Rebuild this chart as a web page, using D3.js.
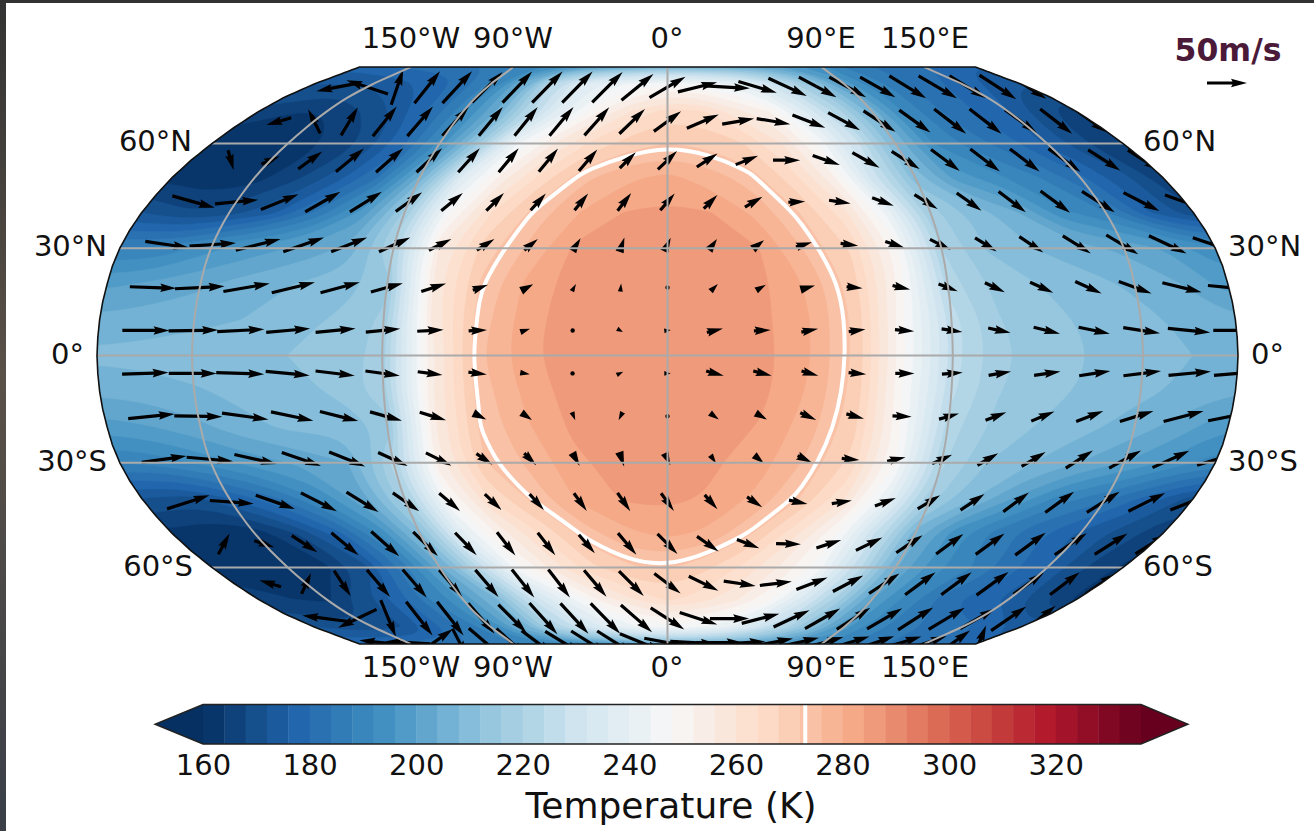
<!DOCTYPE html>
<html>
<head>
<meta charset="utf-8">
<script src="https://d3js.org/d3.v7.min.js"></script>
<style>
  html, body { margin: 0; padding: 0; background: #fff; }
  text { font-family: "DejaVu Sans", sans-serif; fill: #111; }
</style>
</head>
<body>
<div id="chart"></div>
<script>
// temperature, K
const tempLons = [-180,-165,-150,-135,-120,-105,-90,-75,-60,-45,-30,-15,0,15,30,45,60,75,90,105,120,135,150,165,180];
const tempLats = [90,80,70,60,50,40,30,20,10,0,-10,-20,-30,-40,-50,-60,-70,-80,-90];
const tempRows = [
  [178,180,181,182,183,185,187,191,195,199,202,205,206,206,205,203,200,196,192,187,184,182,181,178,176],
  [172,172,173,175,178,181,190,205,224,236,242,246,247,246,242,236,225,213,199,191,185,181,178,175,172],
  [167,164,164,168,173,181,191,204,223,240,252,261,266,265,258,252,237,222,207,191,184,180,176,169,166],
  [161,161,162,164,168,178,193,215,243,256,265,270,272,271,268,260,247,230,208,192,186,181,175,168,164],
  [163,161,162,167,174,184,205,236,254,266,275,279,281,278,274,266,253,228,209,198,193,188,181,174,166],
  [172,168,170,175,185,197,217,247,264,274,280,284,285,284,279,272,262,243,218,211,204,193,188,176,168],
  [188,189,195,198,201,205,222,256,270,277,285,287,287,286,284,275.5,267.5,250,220,211.5,208,205.5,203,199,193],
  [199,201,203,206,208,210,214,257,272.5,281,286,287.5,287.5,287,285,279.5,269.5,250,222,215,211.8,209.5,207.2,204,198],
  [205,206,207,208,210.5,212.5,217,256,273.5,282,286.5,287.5,287.5,287.5,285,280,270.5,248,226,216.2,213.5,211,209,207,204],
  [209,209.5,210,211,212,213,218,253,275,282.5,287,287.5,287.5,287.5,285.5,280,270.5,248,226,217,214,211.7,210,208.1,206],
  [205,206,207.5,209,210.5,212.7,219,255,273.5,281,286,287.5,287.5,287.5,285,279.5,270,247,225,216.2,213.5,211,209,207,204],
  [198,200,203,207,209,209.5,213,255,273,279.5,285,287.5,287.5,287,283.5,278,269,248,222,215,211.5,209,206,202,196],
  [188,190,194,198,201,204,222,255,271.8,277,283,286,286,284.5,282,275.5,267,248,221,212,208,204,200,195,190],
  [172,170,176,183,192,203,219,248,265,274,281,284.5,285,283.5,279,272,261,241,218,208,199,190,185,178,170],
  [163,161,161,168,178,192,210,238,254,265,274,279,281,279,272.5,262,249,228,205,193,186,180,175,170,165],
  [163,161,161,163,170,184,203,224,246,258,267,271.5,272.5,269,263,255,246,227,205,195,188,183,176,168,163],
  [165,164,163,170,178,188,197,208,228,241,253,260,265,262,257,249,234,218,200,190,183,178,175,168,163],
  [172,170,170,172,178,184,193,206,220,230,238,244,247,245,241,232,222,210,198,191,186,183,181,178,174],
  [180,181,182,183,184,185,187,189,191,194,197,200,201,201,200,198,196,194,192,188,185,183,182,180,178]
];

// wind, m/s (u to the east, v to the north)
const windLons = [-165,-150,-135,-120,-105,-90,-75,-60,-45,-30,-15,0,15,30,45,60,75,90,105,120,135,150,165,180];
const windLats = [79,67,55,43,31,19,7,-5,-17,-29,-41,-53,-65,-77,-89];
const uRows = [
  [-52,-52,15,32,37,38,37,38,38,38,40,45,49,56,48,48,47,46,44,46,48,46,46,46],
  [-31,-15,21,30,32,33,30,29,30,31,32,34,40,40,42,41,40,40,39,40,40,40,40,38],
  [7,23,30,35,34,32,27,25,24,23,20,24,26,28,34,34,34,35,36,37,37,40,40,40],
  [53,54,47,44,40,33,27,22,19,17,17,18,17,22,21,27,27,29,31,34,37,41,45,49],
  [55,58,56,51,45,39,28,22,17,10,6,8,10,14,20,22,24,26,27,30,35,40,47,51],
  [58,62,58,54,49,40,31,19,15,5,1,1,9,12,18,20,22,24,25,29,33,41,49,52],
  [59,62,59,55,50,43,33,23,12,1.5,7,8,20,21,21,21,24,26,28,33,39,46,53,58],
  [58,60,60,55,49,43,31,23,12,1.5,8,8,22,23,21,22,24,26,28,33,39,47,53,58],
  [58,60,58,53,48,40,33,16,13,4,-5,1,11,14,20,22,24,25,26,29,34,42,50,56],
  [56,58,53,49,45,37,32,20,15,9,6,7,7,12,18,22,23,25,26,30,34,40,46,49],
  [53,55,49,45,40,33,26,21,18,16,16,16,16,19,23,25,26,28,30,32,36,41,46,50],
  [14,25,32,34,35,31,27,23,22,20,23,25,27,28,31,31,33,33,34,36,38,40,41,40],
  [-27,12,21,29,30,29,29,28,27,28,31,33,37,40,40,39,38,38,38,38,40,38,37,37],
  [-60,-48,19,33,33,33,35,35,35,37,39,42,47,49,47,45,44,42,44,44,45,44,44,40],
  [-56,-56,48,18,42,38,40,46,46,46,54,58,58,58,50,54,54,50,50,47,50,48,42,17]
];
const vRows = [
  [-10,17,44,40,40,38,39,39,39,38,33,26,12,-3,-14,-22,-25,-25,-25,-28,-28,-28,-30,-29],
  [-9,30,35,37,37,36,36,36,36,35,31,25,17,7,-7,-16,-22,-26,-28,-31,-31,-29,-31,-27],
  [-25,10,22,29,30,30,30,30,29,27,20,23,17,11,0,-12,-19,-22,-27,-28,-28,-29,-26,-25],
  [-15,5,19,25,25,24,22,22,21,21,22,21,17,13,1,-4,-10,-18,-22,-26,-27,-26,-23,-17],
  [-8,4,14,18,18,18,14,14,14,16,18,17,14,11,6,-3,-8,-13,-17,-20,-22,-24,-22,-17],
  [-2,3,10,13,13,11,10,7,8,9,10,3,9,7,5,-2,-5,-9,-12,-13,-15,-15,-12,-5],
  [0,1,3,5,5,4,2,1,4,0,-4,1,5,1,4,3,-2,-4,-6,-8,-8,-7,-5,0],
  [2,0,-2,-5,-6,-6,-4,-3,-2,0,4,0,-6,-6,-6,-2,0,2,5,5,6,6,5,5],
  [6,-1,-8,-11,-12,-11,-10,-8,-9,-10,-10,-2,-8,-8,-9,-6,-1,7,10,12,13,13,13,11],
  [8,-5,-12,-17,-18,-17,-16,-14,-15,-16,-18,-15,-10,-10,-9,-2,5,11,15,18,22,22,21,15],
  [17,-4,-17,-23,-25,-23,-22,-20,-20,-22,-23,-22,-18,-13,-5,4,10,17,20,24,26,26,23,20],
  [26,-8,-21,-28,-31,-30,-28,-29,-28,-23,-27,-25,-19,-11,-1,10,16,22,25,26,28,27,26,25],
  [8,26,-32,-34,-35,-34,-34,-35,-35,-33,-31,-25,-18,-6,5,15,20,25,28,28,29,27,28,25],
  [8,-23,-46,-42,-42,-38,-35,-39,-38,-38,-34,-27,-15,0,12,21,25,27,26,28,27,25,30,32],
  [6,3,34,-35,-36,-35,-30,-28,-29,-29,-22,-11,-3,0,3,10,12,14,15,16,15,16,30,43]
];

const gridLons = [-150,-90,0,90,150];
const gridLats = [60,30,0,-30,-60];
const lonLabels = ["150°W","90°W","0°","90°E","150°E"];
const latLabels = ["60°N","30°N","0°","30°S","60°S"];
const levelStep = 4;
const levelMin = 160;
const levelMax = 336;
const cbarTicks = [160,180,200,220,240,260,280,300,320];
const freezing = 273;
const refSpeed = 50;

// Robinson table
const robLat = [0,5,10,15,20,25,30,35,40,45,50,55,60,65,70,75,80,85,90];
const robLen = [1,.9986,.9954,.99,.9822,.973,.96,.9427,.9216,.8962,.8679,.835,.7986,.7597,.7186,.6732,.6213,.5722,.54];
const robDfe = [0,.062,.124,.186,.248,.31,.372,.434,.4958,.5571,.6176,.6769,.7346,.7903,.8435,.8936,.9394,.9761,1];

const w = 1314, h = 831;
const cx = 667.5, cy = 355.5, halfW = 570.5, halfH = 288.5;

const plen = d3.scaleLinear().domain(robLat).range(robLen);
const pdfe = d3.scaleLinear().domain(robLat).range(robDfe);
const project = (lon, lat) => [
  cx + lon / 180 * halfW * plen(Math.abs(lat)),
  cy - Math.sign(lat) * halfH * pdfe(Math.abs(lat))
];

const rdbu = ["#053061","#2166ac","#4393c3","#92c5de","#d1e5f0","#f7f7f7","#fddbc7","#f4a582","#d6604d","#b2182b","#67001f"];
const color = d3.scaleLinear()
  .domain(d3.range(11).map(i => levelMin + (levelMax - levelMin) * i / 10))
  .range(rdbu);

const levels = d3.range(levelMin, levelMax + 1, levelStep);

const svg = d3.select("#chart").append("svg").attr("width", w).attr("height", h);

// the screenshot frame
const frame = svg.append("defs").append("linearGradient").attr("id", "frame")
  .attr("x1", 0).attr("x2", 0).attr("y1", 0).attr("y2", 1);
frame.append("stop").attr("offset", "0%").attr("stop-color", "#333333");
frame.append("stop").attr("offset", "45%").attr("stop-color", "#5a5148");
frame.append("stop").attr("offset", "100%").attr("stop-color", "#3a3f48");
svg.append("rect").attr("x", 0).attr("y", 0).attr("width", 6).attr("height", h).attr("fill", "url(#frame)");
svg.append("rect").attr("x", 0).attr("y", 0).attr("width", w).attr("height", 3).attr("fill", "#333");

// map outline
const outlinePts = d3.range(-90, 90.5, 1).map(lat => project(180, lat))
  .concat(d3.range(90, -90.5, -1).map(lat => project(-180, lat)));
const outlineLine = d3.line().curve(d3.curveLinearClosed);
svg.select("defs").append("clipPath").attr("id", "mapclip")
  .append("path").attr("d", outlineLine(outlinePts));

const map = svg.append("g").attr("clip-path", "url(#mapclip)");

// pad the grid with repeated edges so contour rings close outside the clip
const padLons = [-205].concat(tempLons, [205]);
const padLats = [112].concat(tempLats, [-112]);
const padRows = [tempRows[0]].concat(tempRows, [tempRows[tempRows.length - 1]])
  .map(r => [r[0]].concat(r, [r[r.length - 1]]));
const flat = d3.merge(padRows);

const lonAt = d3.scaleLinear().domain(d3.range(padLons.length)).range(padLons);
const latAt = d3.scaleLinear().domain(d3.range(padLats.length)).range(padLats);
const contours = d3.contours().size([padLons.length, padLats.length]);

const ringLine = d3.line().curve(d3.curveBasisClosed);
const contourPath = geom => geom.coordinates
  .map(poly => poly.map(ring => ringLine(ring.slice(1).map(p => project(lonAt(p[0] - 0.5), latAt(p[1] - 0.5))))).join(""))
  .join("");

map.append("path").attr("d", outlineLine(outlinePts)).attr("fill", color(levelMin));

map.selectAll("path.band")
  .data(levels.slice(0, -1))
  .enter()
  .append("path")
  .attr("class", "band")
  .attr("d", v => contourPath(contours.contour(flat, v)))
  .attr("fill", v => color(v + levelStep / 2))
  .attr("fill-rule", "evenodd")
  .attr("stroke", v => color(v + levelStep / 2))
  .attr("stroke-width", 0.4);

// 273 K line
map.append("path")
  .attr("d", contourPath(contours.contour(flat, freezing)))
  .attr("fill", "none")
  .attr("stroke", "#fff")
  .attr("stroke-width", 4);

// wind arrows, quiver style
const speed = d3.scaleLinear().domain([0, refSpeed]).range([0, 40]);
const shaft = 3.2, headLen = 16, headBack = 14.5, headW = 8.6;
const arrowPath = len => {
  if (len < 3.4) return "M-2.2,0a2.2,2.2 0 1,0 4.4,0a2.2,2.2 0 1,0 -4.4,0Z";
  const half = len / 2;
  if (len <= headLen) {
    const hw = headW / 2 * Math.max(0.55, Math.min(1, len / 14));
    return `M${-half},${-hw}L${half},0L${-half},${hw}Z`;
  }
  return `M${-half},${-shaft / 2}L${half - headBack},${-shaft / 2}L${half - headLen},${-headW / 2}L${half},0` +
    `L${half - headLen},${headW / 2}L${half - headBack},${shaft / 2}L${-half},${shaft / 2}Z`;
};
const winds = [];
windLats.forEach((lat, i) => windLons.forEach((lon, j) => {
  winds.push({lon: lon, lat: lat, u: uRows[i][j], v: vRows[i][j]});
}));
map.selectAll("path.wind")
  .data(winds)
  .enter()
  .append("path")
  .attr("class", "wind")
  .attr("d", d => arrowPath(speed(Math.hypot(d.u, d.v))))
  .attr("transform", d => {
    const p = project(d.lon, d.lat);
    return `translate(${p[0]},${p[1]}) rotate(${Math.atan2(-d.v, d.u) * 180 / Math.PI})`;
  })
  .attr("fill", "#000");

// graticule on top of the arrows
const gridColor = "#aaaaaa";
gridLats.forEach(lat => {
  map.append("path")
    .attr("d", d3.line()([project(-180, lat), project(180, lat)]))
    .attr("stroke", gridColor).attr("stroke-width", 2).attr("fill", "none");
});
gridLons.forEach(lon => {
  map.append("path")
    .attr("d", d3.line().curve(d3.curveCatmullRom)(d3.range(-90, 90.5, 5).map(lat => project(lon, lat))))
    .attr("stroke", gridColor).attr("stroke-width", 2).attr("fill", "none");
});

svg.append("path").attr("d", outlineLine(outlinePts))
  .attr("fill", "none").attr("stroke", "#111").attr("stroke-width", 1.6);

// tick labels round the map
const labelSize = 29;
const lonLabelX = [411,513,667,821,925];
const lonLabelY = [38,667];
lonLabelY.forEach(y => {
  lonLabels.forEach((t, i) => {
    svg.append("text")
      .attr("x", lonLabelX[i])
      .attr("y", y)
      .attr("dy", "0.36em")
      .attr("text-anchor", "middle")
      .attr("font-size", labelSize)
      .text(t);
  });
});
const latLeftEdge = [192,107,84,107,193];
const latRightEdge = [1143,1228,1251,1228,1143];
const latLabelY = [141,246,354,461,566];
latLabels.forEach((t, i) => {
  svg.append("text").attr("x", latLeftEdge[i]).attr("y", latLabelY[i]).attr("dy", "0.36em")
    .attr("text-anchor", "end").attr("font-size", labelSize).text(t);
  svg.append("text").attr("x", latRightEdge[i]).attr("y", latLabelY[i]).attr("dy", "0.36em")
    .attr("text-anchor", "start").attr("font-size", labelSize).text(t);
});

// reference arrow
svg.append("text")
  .attr("x", 1228).attr("y", 50).attr("dy", "0.36em")
  .attr("text-anchor", "middle")
  .attr("font-size", 31.5).attr("font-weight", "bold")
  .style("fill", "#4a1a38")
  .text(refSpeed + "m/s");
svg.append("path")
  .attr("d", arrowPath(speed(refSpeed)))
  .attr("transform", "translate(1227,83)")
  .attr("fill", "#000");

// colour bar
const cbarY = 704.5, cbarH = 39.5;
const cbar = d3.scaleLinear().domain([160, 336]).range([203, 1141]);
svg.selectAll("rect.cell")
  .data(levels.slice(0, -1))
  .enter()
  .append("rect")
  .attr("class", "cell")
  .attr("x", v => cbar(v))
  .attr("y", cbarY)
  .attr("width", v => cbar(v + levelStep) - cbar(v) + 0.4)
  .attr("height", cbarH)
  .attr("fill", v => color(v + levelStep / 2));
svg.append("path")
  .attr("d", d3.line()([[cbar(160), cbarY], [155, cbarY + cbarH / 2], [cbar(160), cbarY + cbarH]]))
  .attr("fill", color(160));
svg.append("path")
  .attr("d", d3.line()([[cbar(336), cbarY], [1188, cbarY + cbarH / 2], [cbar(336), cbarY + cbarH]]))
  .attr("fill", color(336));
svg.append("rect")
  .attr("x", cbar(freezing) - 2).attr("y", cbarY).attr("width", 4).attr("height", cbarH).attr("fill", "#fff");
svg.append("path")
  .attr("d", d3.line().curve(d3.curveLinearClosed)([
    [cbar(160), cbarY], [cbar(336), cbarY], [1188, cbarY + cbarH / 2], [cbar(336), cbarY + cbarH],
    [cbar(160), cbarY + cbarH], [155, cbarY + cbarH / 2]
  ]))
  .attr("fill", "none").attr("stroke", "#222").attr("stroke-width", 1.4);

const axis = d3.axisBottom(cbar).tickValues(cbarTicks).tickSize(0).tickPadding(0);
const axisG = svg.append("g").attr("transform", `translate(0,${cbarY + cbarH})`).call(axis);
axisG.select(".domain").remove();
axisG.selectAll("text")
  .attr("font-family", "DejaVu Sans")
  .attr("font-size", labelSize)
  .attr("y", 8)
  .attr("dy", "0.8em")
  .style("fill", "#111");

svg.append("text")
  .attr("x", 671).attr("y", 805).attr("dy", "0.36em")
  .attr("text-anchor", "middle")
  .attr("font-size", 36)
  .text("Temperature (K)");
</script>
</body>
</html>
